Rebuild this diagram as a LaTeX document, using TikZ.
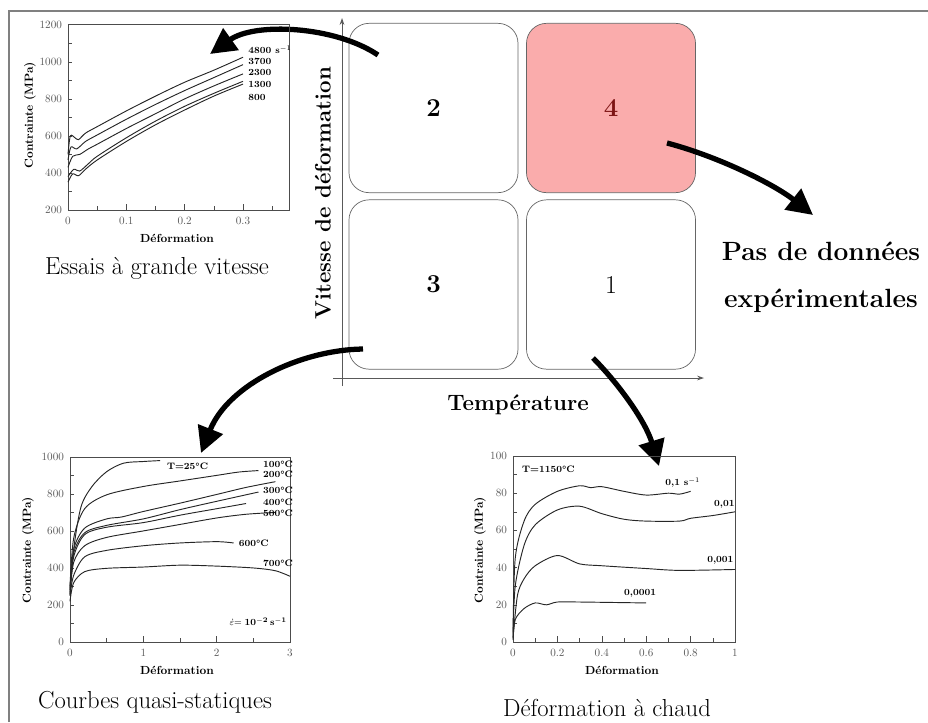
\documentclass[tikz,border=0pt]{standalone}
\usetikzlibrary{arrows.meta}
\definecolor{rose}{RGB}{250,172,172}
\definecolor{rouge}{RGB}{125,20,20}
\definecolor{gris}{RGB}{128,128,128}

\begin{document}
\begin{tikzpicture}[x=0.03cm,y=-0.03cm,
    quad/.style={draw=black!60,line width=0.6pt,rounded corners=0.6cm,minimum width=5.07cm,minimum height=5.08cm,font=\fontsize{22}{26}\selectfont\bfseries},
    axe/.style={draw=black!65,line width=0.7pt},
    fleche/.style={line width=4.5pt,-{Triangle[length=22pt,width=22pt]}},
    graduation/.style={black!70,line width=0.5pt},
    ticklab/.style={font=\fontsize{9.5}{10}\selectfont,text=black!65,inner sep=1pt},
    curvelab/.style={font=\fontsize{8}{9}\selectfont\bfseries,inner sep=0pt,anchor=west},
    axlab/.style={font=\fontsize{10}{12}\selectfont\bfseries},
    legende/.style={font=\fontsize{21}{24}\selectfont},
    grandlab/.style={font=\fontsize{19}{22}\selectfont\bfseries},
    courbe/.style={line width=0.8pt,black!85}]
  \useasboundingbox (0,0) rectangle (928,722);
  \draw[gris,line width=2pt] (9,722) -- (9,11) -- (928,11);

  % quadrants
  \node[quad] (q2) at (433.5,108) {2};
  \node[quad,fill=rose,text=rouge] (q4) at (611,108) {4};
  \node[quad] (q3) at (433.5,284.5) {3};
  \node[quad,font=\fontsize{22}{26}\selectfont] (q1) at (611,284.5) {1};

  % axes
  \coordinate (vbas) at (342,386);
  \coordinate (vhaut) at (342,18);
  \coordinate (hgauche) at (333,378);
  \coordinate (hdroite) at (704,378);
  \draw[axe,-{Stealth[length=6pt,width=4pt]}] (vbas) -- (vhaut);
  \draw[axe,-{Stealth[length=6pt,width=4pt]}] (hgauche) -- (hdroite);
  \node[grandlab,rotate=90] (labV) at (323,193) {Vitesse de déformation};
  \node[grandlab] (labT) at (518,405) {Température};
  \node[font=\fontsize{22.5}{40}\selectfont\bfseries,align=center] (nodata) at (821,277) {Pas de données\\expérimentales};

  % fleches
  \coordinate (d2) at (378,55);
  \coordinate (f2) at (210,54);
  \coordinate (d4) at (667,143);
  \coordinate (f4) at (813,215);
  \coordinate (d3) at (363,349);
  \coordinate (f3) at (201,453);
  \coordinate (d1) at (593,358);
  \coordinate (f1) at (659,466);
  \draw[fleche] (d2) .. controls (335,26) and (255,22) .. (f2);
  \draw[fleche] (d4) .. controls (720,157) and (775,185) .. (f4);
  \draw[fleche] (d3) .. controls (300,350) and (228,385) .. (f3);
  \draw[fleche] (d1) .. controls (617,382) and (645,420) .. (f1);

  % essais a grande vitesse
  \begin{scope}[shift={(68,247)},x=17.5cm,y=0.00555cm]
    \draw[black!70,line width=0.6pt] (0,200) rectangle (0.38,1200);
    \foreach \v in {300,400,...,1100} \draw[graduation] (0,\v) -- ++(3pt,0);
    \foreach \u in {0.05,0.15,0.25,0.35} \draw[graduation] (\u,200) -- ++(0,3pt);
    \foreach \u in {0.1,0.2,0.3} \draw[graduation] (\u,200) -- ++(0,5pt);
    \foreach \v in {200,400,...,1200} \node[ticklab,left=4pt] (ya\v) at (0,\v) {\v};
    \foreach \u/\l [count=\i] in {0/0,0.1/0.1,0.2/0.2,0.3/0.3} \node[ticklab,below=5pt] (xa\i) at (\u,200) {\l};
    \draw[courbe] plot[smooth,tension=0.5] coordinates {(0,500) (0.004,600) (0.012,590) (0.018,580) (0.03,615) (0.05,650) (0.1,735) (0.15,815) (0.2,890) (0.25,955) (0.3,1025)};
    \draw[courbe] plot[smooth,tension=0.5] coordinates {(0,470) (0.005,540) (0.015,530) (0.03,570) (0.05,605) (0.1,690) (0.15,770) (0.2,845) (0.25,915) (0.3,985)};
    \draw[courbe] plot[smooth,tension=0.5] coordinates {(0,430) (0.008,490) (0.02,500) (0.035,530) (0.05,555) (0.1,640) (0.15,720) (0.2,800) (0.25,870) (0.3,935)};
    \draw[courbe] plot[smooth,tension=0.5] coordinates {(0,380) (0.01,420) (0.02,410) (0.035,450) (0.05,490) (0.1,590) (0.15,680) (0.2,760) (0.25,830) (0.3,895)};
    \draw[courbe] plot[smooth,tension=0.5] coordinates {(0,350) (0.008,395) (0.018,385) (0.03,420) (0.05,470) (0.1,570) (0.15,660) (0.2,740) (0.25,815) (0.3,880)};
    \node[curvelab] (v4800) at (0.309,1065) {4800 s$^{-1}$};
    \node[curvelab] (v3700) at (0.309,1000) {3700};
    \node[curvelab] (v2300) at (0.309,940) {2300};
    \node[curvelab] (v1300) at (0.309,876) {1300};
    \node[curvelab] (v800) at (0.309,805) {800};
  \end{scope}
  \node[axlab,rotate=90] (yA) at (30,115) {Contrainte (MPa)};
  \node[axlab] (xA) at (177,238) {Déformation};
  \node[legende] (captA) at (157,268) {Essais à grande vitesse};

  % courbes quasi-statiques
  \begin{scope}[shift={(70,642)},x=2.2cm,y=0.00555cm]
    \draw[black!70,line width=0.6pt] (0,0) rectangle (3,1000);
    \foreach \v in {100,200,...,900} \draw[graduation] (0,\v) -- ++(3pt,0);
    \foreach \u in {0.5,1.5,2.5} \draw[graduation] (\u,0) -- ++(0,3pt);
    \foreach \u in {1,2} \draw[graduation] (\u,0) -- ++(0,5pt);
    \foreach \v in {0,200,...,1000} \node[ticklab,left=4pt] (yb\v) at (0,\v) {\v};
    \foreach \u in {0,1,2,3} \node[ticklab,below=5pt] (xb\u) at (\u,0) {\u};
    \draw[courbe] plot[smooth,tension=0.5] coordinates {(0,250) (0.05,500) (0.15,730) (0.3,840) (0.5,920) (0.73,966) (1,975) (1.23,980)};
    \draw[courbe] plot[smooth,tension=0.5] coordinates {(0,300) (0.05,560) (0.2,720) (0.5,795) (1,840) (1.5,870) (2,900) (2.3,918) (2.57,926)};
    \draw[courbe] plot[smooth,tension=0.5] coordinates {(0,290) (0.05,500) (0.2,615) (0.5,665) (0.7,675) (1,705) (1.5,750) (2,797) (2.4,835) (2.8,866)};
    \draw[courbe] plot[smooth,tension=0.5] coordinates {(0,280) (0.05,480) (0.2,590) (0.5,630) (1,665) (1.5,715) (2,760) (2.57,810)};
    \draw[courbe] plot[smooth,tension=0.5] coordinates {(0,270) (0.05,460) (0.2,580) (0.5,620) (1,645) (1.5,685) (2,720) (2.4,748)};
    \draw[courbe] plot[smooth,tension=0.5] coordinates {(0,260) (0.05,430) (0.2,520) (0.5,565) (1,600) (1.5,635) (2,670) (2.4,690) (2.8,700)};
    \draw[courbe] plot[smooth,tension=0.5] coordinates {(0,250) (0.05,360) (0.2,460) (0.5,495) (1,520) (1.5,535) (2,542) (2.23,535)};
    \draw[courbe] plot[smooth,tension=0.5] coordinates {(0,220) (0.05,320) (0.2,380) (0.5,398) (1,405) (1.5,415) (2,410) (2.5,400) (2.8,385) (3,355)};
    \node[curvelab] (t25) at (1.32,951) {T=25\textdegree C};
    \node[curvelab] (t100) at (2.63,962) {100\textdegree C};
    \node[curvelab] (t200) at (2.63,908) {200\textdegree C};
    \node[curvelab] (t300) at (2.63,822) {300\textdegree C};
    \node[curvelab] (t400) at (2.63,757) {400\textdegree C};
    \node[curvelab] (t500) at (2.63,697) {500\textdegree C};
    \node[curvelab] (t600) at (2.3,535) {600\textdegree C};
    \node[curvelab] (t700) at (2.63,427) {700\textdegree C};
    \node[curvelab,anchor=east] (vitB) at (2.96,108) {$\dot{\varepsilon}\mathbf{=10^{-2}\,s^{-1}}$};
  \end{scope}
  \node[axlab,rotate=90] (yB) at (28,550) {Contrainte (MPa)};
  \node[axlab] (xB) at (177,670) {Déformation};
  \node[legende] (captB) at (155,702) {Courbes quasi-statiques};

  % deformation a chaud
  \begin{scope}[shift={(513,642)},x=6.66cm,y=0.0558cm]
    \draw[black!70,line width=0.6pt] (0,0) rectangle (1,100);
    \foreach \v in {10,20,...,90} \draw[graduation] (0,\v) -- ++(3pt,0);
    \foreach \u in {0.1,0.3,0.5,0.7,0.9} \draw[graduation] (\u,0) -- ++(0,3pt);
    \foreach \u in {0.2,0.4,0.6,0.8} \draw[graduation] (\u,0) -- ++(0,5pt);
    \foreach \v in {0,20,...,100} \node[ticklab,left=4pt] (yc\v) at (0,\v) {\v};
    \foreach \u/\l [count=\i] in {0/0,0.2/0.2,0.4/0.4,0.6/0.6,0.8/0.8,1/1} \node[ticklab,below=5pt] (xc\i) at (\u,0) {\l};
    \draw[courbe] plot[smooth,tension=0.5] coordinates {(0,5) (0.01,45) (0.05,65) (0.1,74) (0.2,81) (0.3,84) (0.35,83) (0.4,83.5) (0.5,81) (0.6,79) (0.7,80) (0.75,79.5) (0.8,81)};
    \draw[courbe] plot[smooth,tension=0.5] coordinates {(0,3) (0.01,30) (0.05,52) (0.1,63) (0.2,71) (0.3,73) (0.4,69) (0.5,66) (0.6,65) (0.75,65) (0.8,66.5) (0.9,68) (1,70)};
    \draw[courbe] plot[smooth,tension=0.5] coordinates {(0,2) (0.02,25) (0.05,34) (0.1,41) (0.2,46.5) (0.3,42) (0.4,41) (0.6,39.5) (0.75,38.5) (1,39)};
    \draw[courbe] plot[smooth,tension=0.5] coordinates {(0,1) (0.01,12) (0.05,18) (0.1,21) (0.15,20) (0.2,21.5) (0.3,21.5) (0.6,21)};
    \node[curvelab] (tc) at (0.04,93) {T=1150\textdegree C};
    \node[curvelab] (r1) at (0.685,85.5) {0,1 s$^{-1}$};
    \node[curvelab] (r2) at (0.905,74) {0,01};
    \node[curvelab] (r3) at (0.874,44) {0,001};
    \node[curvelab] (r4) at (0.5,26) {0,0001};
  \end{scope}
  \node[axlab,rotate=90] (yC) at (480,550) {Contrainte (MPa)};
  \node[axlab] (xC) at (622,670) {Déformation};
  \node[legende] (captC) at (607,708) {Déformation à chaud};
\end{tikzpicture}
\end{document}
